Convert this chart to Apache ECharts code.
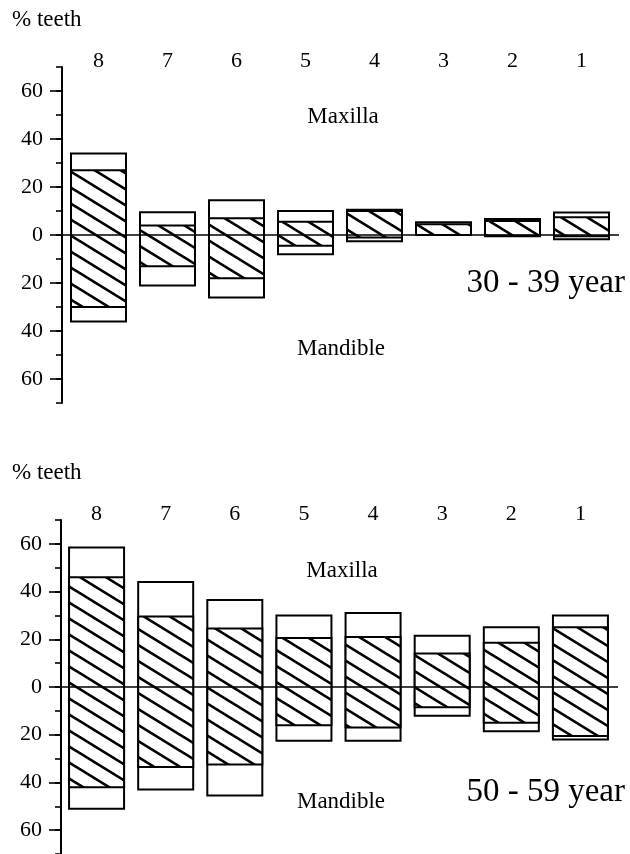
<!DOCTYPE html>
<html>
<head>
<meta charset="utf-8">
<script src="https://cdn.jsdelivr.net/npm/echarts@6/dist/echarts.min.js"></script>
<style>
html,body{margin:0;padding:0;background:#fff;}
#c{width:630px;height:854px;}
</style>
</head>
<body>
<div id="c"></div>
<script>
// ---- data ----
const categories = ['8', '7', '6', '5', '4', '3', '2', '1'];
const yTickLabels = [-60, -40, -20, 0, 20, 40, 60];

// 30 - 39 year (percent of teeth; mandible values plotted downward)
const maxillaTotal30 = [34, 9.5, 14.5, 10, 10.5, 5.3, 6.7, 9.4];
const maxillaHatched30 = [27, 4, 7, 5.5, 10, 4.5, 5.8, 7.4];
const mandibleHatched30 = [30, 13, 18, 4.5, 1, 0, 0.3, 0.5];
const mandibleTotal30 = [36, 21, 26, 8, 2.6, 0, 0.5, 1.8];

// 50 - 59 year
const maxillaTotal50 = [58.5, 44, 36.5, 30, 31, 21.5, 25, 30];
const maxillaHatched50 = [46, 29.5, 24.5, 20.5, 21, 14, 18.5, 25];
const mandibleHatched50 = [42, 33.5, 32.5, 16, 17, 8.5, 15, 20.5];
const mandibleTotal50 = [51, 43, 45.5, 22.5, 22.5, 12, 18.5, 22];

const ageLabels = ['30 - 39 year', '50 - 59 year'];
const yTitle = '% teeth';
const upperLabel = 'Maxilla';
const lowerLabel = 'Mandible';

// ---- hatch pattern ----
function makeHatch() {
  const W = 26, H = 16;
  const cv = document.createElement('canvas');
  cv.width = W; cv.height = H;
  const ctx = cv.getContext('2d');
  ctx.fillStyle = '#fff';
  ctx.fillRect(0, 0, W, H);
  ctx.strokeStyle = '#000';
  ctx.lineWidth = 2.6;
  for (let k = -1; k <= 1; k++) {
    ctx.beginPath();
    ctx.moveTo(-W, -H + k * H);
    ctx.lineTo(2 * W, 2 * H + k * H);
    ctx.stroke();
  }
  return cv;
}
const hatch = { image: makeHatch(), repeat: 'repeat' };

const FONT = '"Liberation Serif", "Times New Roman", serif';
const BAR_W = 55;

const grids = [
  { left: 64, right: 14, top: 67, height: 336, offset: 2 },
  { left: 62, right: 15, top: 520, height: 336, offset: 1 }
];
const sets = [
  [maxillaTotal30, mandibleTotal30, maxillaHatched30, mandibleHatched30],
  [maxillaTotal50, mandibleTotal50, maxillaHatched50, mandibleHatched50]
];

function boxRenderer(fill) {
  return function (params, api) {
    const idx = api.value(0);
    const up = api.coord([idx, api.value(1)]);
    const down = api.coord([idx, -api.value(2)]);
    return {
      type: 'rect',
      shape: { x: up[0] - BAR_W / 2, y: up[1], width: BAR_W, height: down[1] - up[1] },
      style: { fill: fill, stroke: '#000', lineWidth: 2 }
    };
  };
}
function zeroLineRenderer(params, api) {
  const cs = params.coordSys;
  const y0 = api.coord([0, 0])[1];
  return {
    type: 'line',
    shape: { x1: cs.x - 2, y1: y0, x2: cs.x + cs.width + 3, y2: y0 },
    style: { stroke: '#000', lineWidth: 1.6 }
  };
}

const option = {
  animation: false,
  backgroundColor: '#fff',
  grid: grids.map(g => ({ left: g.left, right: g.right, top: g.top, height: g.height })),
  xAxis: grids.map((g, i) => ({
    type: 'category', gridIndex: i, position: 'top', data: categories,
    axisLine: { show: false }, axisTick: { show: false },
    axisLabel: { color: '#000', fontSize: 22, fontFamily: FONT, margin: -5 },
    splitLine: { show: false }
  })),
  yAxis: [],
  series: [],
  graphic: []
};

grids.forEach((g, i) => {
  option.yAxis.push({
    type: 'value', gridIndex: i, position: 'left', min: -70, max: 70, interval: 10, offset: g.offset,
    axisLine: { show: true, lineStyle: { color: '#000', width: 2 } },
    axisTick: { show: true, customValues: yTickLabels, length: 12, lineStyle: { color: '#000', width: 1.6 } },
    axisLabel: { show: true, customValues: yTickLabels, formatter: v => String(Math.abs(v)), color: '#000', fontSize: 22, fontFamily: FONT, margin: 19 },
    splitLine: { show: false }
  });
  option.yAxis.push({
    type: 'value', gridIndex: i, position: 'left', min: -70, max: 70, interval: 10, offset: g.offset,
    axisLine: { show: false },
    axisTick: { show: true, length: 6, lineStyle: { color: '#000', width: 1.6 } },
    axisLabel: { show: false },
    splitLine: { show: false }
  });
  const yIdx = i * 2;
  const [mt, dt, mh, dh] = sets[i];
  const base = { type: 'custom', xAxisIndex: i, yAxisIndex: yIdx, silent: true, encode: { x: 0, y: [1, 2] } };
  option.series.push(Object.assign({}, base, {
    name: 'total ' + i, renderItem: boxRenderer('#fff'),
    data: categories.map((c, k) => [k, mt[k], dt[k]])
  }));
  option.series.push(Object.assign({}, base, {
    name: 'hatched ' + i, renderItem: boxRenderer(hatch),
    data: categories.map((c, k) => [k, mh[k], dh[k]])
  }));
  option.series.push(Object.assign({}, base, {
    name: 'zero ' + i, renderItem: zeroLineRenderer, data: [[0, 0, 0]]
  }));
});

const txt = (text, x, y, size, align) => ({
  type: 'text', x: x, y: y, silent: true,
  style: { text: text, fill: '#000', font: size + 'px ' + FONT, align: align || 'center', verticalAlign: 'middle' }
});
option.graphic = [
  txt(yTitle, 12, 20, 23, 'left'),
  txt(upperLabel, 343, 117, 23),
  txt(lowerLabel, 341, 349, 23),
  txt(ageLabels[0], 625, 283, 33, 'right'),
  txt(yTitle, 12, 473, 23, 'left'),
  txt(upperLabel, 342, 571, 23),
  txt(lowerLabel, 341, 802, 23),
  txt(ageLabels[1], 625, 792, 33, 'right')
];

const chart = echarts.init(document.getElementById('c'), null, { renderer: 'canvas' });
chart.setOption(option);
</script>
</body>
</html>
